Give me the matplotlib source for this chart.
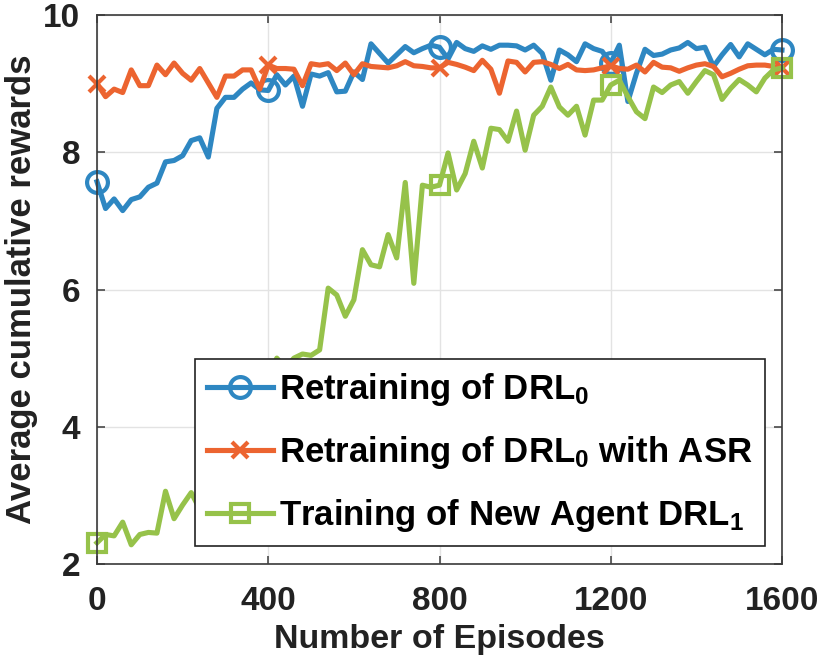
import matplotlib
matplotlib.use('Agg')
import matplotlib.pyplot as plt
import numpy as np

plt.rcParams['font.family'] = ['Liberation Sans', 'DejaVu Sans']
plt.rcParams['font.weight'] = 'bold'
plt.rcParams['mathtext.fontset'] = 'custom'
plt.rcParams['mathtext.rm'] = 'Liberation Sans:bold'
plt.rcParams['mathtext.bf'] = 'Liberation Sans:bold'
plt.rcParams['mathtext.default'] = 'rm'

step = 20
retrain = [7.57, 7.18, 7.32, 7.15, 7.31, 7.35, 7.49, 7.55, 7.86, 7.88,
           7.95, 8.17, 8.21, 7.93, 8.64, 8.80, 8.80, 8.92, 9.01, 8.91,
           8.90, 9.13, 8.98, 9.11, 8.67, 9.14, 9.11, 9.16, 8.88, 8.89,
           9.17, 9.06, 9.58, 9.44, 9.30, 9.42, 9.54, 9.45, 9.51, 9.56,
           9.53, 9.36, 9.60, 9.51, 9.47, 9.55, 9.50, 9.56, 9.56, 9.55,
           9.49, 9.56, 9.44, 9.05, 9.49, 9.42, 9.32, 9.58, 9.51, 9.47,
           9.30, 9.56, 8.74, 9.15, 9.50, 9.41, 9.43, 9.49, 9.52, 9.60,
           9.51, 9.53, 9.25, 9.42, 9.57, 9.39, 9.58, 9.50, 9.42, 9.50,
           9.49]
retrain_asr = [9.00, 8.81, 8.92, 8.87, 9.20, 8.97, 8.97, 9.27, 9.13, 9.30,
               9.15, 9.05, 9.22, 9.01, 8.80, 9.11, 9.11, 9.20, 9.20, 8.92,
               9.27, 9.22, 9.22, 9.21, 8.97, 9.29, 9.27, 9.29, 9.19, 9.30,
               9.13, 9.29, 9.25, 9.24, 9.23, 9.26, 9.32, 9.26, 9.25, 9.23,
               9.23, 9.31, 9.28, 9.24, 9.19, 9.34, 9.21, 8.86, 9.33, 9.31,
               9.17, 9.31, 9.32, 9.28, 9.22, 9.28, 9.20, 9.19, 9.20, 9.23,
               9.26, 9.22, 9.21, 9.27, 9.17, 9.31, 9.24, 9.23, 9.18, 9.23,
               9.27, 9.29, 9.25, 9.10, 9.15, 9.21, 9.26, 9.27, 9.27, 9.25,
               9.23]
new_agent = [2.31, 2.43, 2.41, 2.61, 2.28, 2.43, 2.46, 2.45, 3.06, 2.66,
             2.86, 3.04, 2.80, 3.05, 3.30, 3.20, 3.60, 3.85, 3.75, 4.20,
             4.70, 5.00, 4.85, 5.00, 5.06, 5.04, 5.12, 6.02, 5.92, 5.61,
             5.85, 6.58, 6.36, 6.33, 6.80, 6.46, 7.56, 6.09, 7.52, 7.49,
             7.52, 7.99, 7.45, 7.69, 8.16, 7.77, 8.35, 8.33, 8.16, 8.60,
             8.03, 8.54, 8.67, 8.95, 8.66, 8.54, 8.67, 8.25, 8.76, 8.76,
             8.98, 9.05, 8.81, 8.59, 8.49, 8.95, 8.87, 8.98, 9.03, 8.86,
             9.03, 9.19, 9.13, 8.77, 8.93, 9.06, 8.98, 8.88, 9.08, 9.20,
             9.23]
episodes = np.arange(len(retrain)) * step

labels = ['Retraining of DRL$_0$',
          'Retraining of DRL$_0$ with ASR',
          'Training of New Agent DRL$_1$']
colors = ['#2E87C2', '#EC6430', '#96C24A']
markers = ['o', 'x', 's']
x_ticks = [0, 400, 800, 1200, 1600]
y_ticks = [2, 4, 6, 8, 10]

fig = plt.figure(figsize=(8.3, 6.65), dpi=100)
ax = fig.add_axes([97/830, 1-564/665, (782-97)/830, (564-15)/665])

series = [retrain, retrain_asr, new_agent]
msizes = [15, 12, 13]
for ys, lab, c, m, ms in zip(series, labels, colors, markers, msizes):
    ax.plot(episodes, ys, color=c, lw=3.7, marker=m, markevery=20,
            markersize=ms, markerfacecolor='none', markeredgecolor=c,
            markeredgewidth=3, label=lab, clip_on=False)

ax.set_xlim(0, 1600)
ax.set_ylim(2, 10)
ax.set_xticks(x_ticks)
ax.set_yticks(y_ticks)
ax.grid(True, color='#E3E3E3', lw=1)
ax.set_axisbelow(True)
for s in ax.spines.values():
    s.set_color('#3a3a3a')
    s.set_linewidth(1.2)
ax.tick_params(direction='in', length=6, width=1.1, top=True, right=True,
               colors='#3a3a3a', labelcolor='#222222', labelsize=24)
ax.tick_params(axis='x', pad=16)
ax.tick_params(axis='y', pad=12)
for t in ax.get_xticklabels() + ax.get_yticklabels():
    t.set_fontweight('bold')

ax.set_xlabel('Number of Episodes', fontsize=24.5, fontweight='bold', color='#222222', labelpad=5)
ax.set_ylabel('Average cumulative rewards', fontsize=25, fontweight='bold', color='#222222', labelpad=4)

leg = ax.legend(loc='lower right', bbox_to_anchor=(0.975, 0.033), borderaxespad=0,
                frameon=True, fancybox=False, edgecolor='#222222',
                handlelength=1.9, handletextpad=0.17, labelspacing=0.74,
                borderpad=0.35, prop={'weight': 'bold', 'size': 25})
leg.get_frame().set_linewidth(1.2)
leg.get_frame().set_alpha(1)

fig.savefig('out.png', dpi=100)
